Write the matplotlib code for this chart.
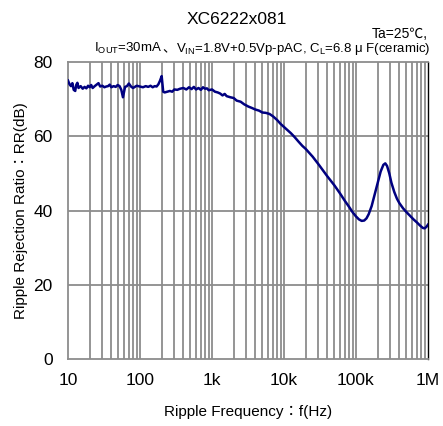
import matplotlib
matplotlib.use("Agg")
import matplotlib.pyplot as plt
import numpy as np

plt.rcParams['font.family'] = ['Liberation Sans', 'Noto Sans CJK JP', 'DejaVu Sans']

freq = [10, 10.5, 11, 11.5, 12, 12.6, 13, 13.5, 14, 15, 16, 17, 18, 19, 20, 21, 22, 23.5, 25, 26.5,
        28, 30, 32, 34, 36, 38, 40, 43, 46, 49, 52, 55, 58, 62, 66, 70, 75, 80, 85, 90,
        100, 110, 120, 130, 140, 150, 160, 170, 180, 190, 200, 210, 220, 240, 260, 280, 300, 330, 360, 400,
        440, 480, 520, 560, 600, 650, 700, 750, 800, 850, 900, 1000, 1100, 1200, 1300, 1400, 1500, 1600, 1800, 2000,
        2200, 2500, 2800, 3200, 3600, 4000, 4500, 5000, 5600, 6300, 7000, 8000, 9000, 10000, 11000, 12500, 14000, 16000, 18000, 20000,
        25000, 30000, 40000, 50000, 60000, 70000, 80000, 90000, 100000, 110000, 120000, 130000, 140000, 150000, 165000, 180000, 200000, 220000, 240000, 255000,
        270000, 290000, 310000, 340000, 370000, 400000, 450000, 500000, 560000, 630000, 700000, 780000, 850000, 900000, 950000, 1000000]
rr = [75.0, 74.0, 73.5, 74.3, 72.5, 72.2, 73.8, 74.4, 73.0, 73.5, 72.8, 73.3, 72.9, 73.6, 73.2, 73.8, 73.0, 73.5, 73.9, 74.3,
      73.4, 73.6, 73.2, 73.4, 73.5, 73.9, 73.2, 73.5, 73.3, 73.8, 73.5, 72.5, 70.5, 73.3, 73.5, 74.2, 73.4, 73.0, 73.3, 73.6,
      73.4, 73.2, 73.5, 73.3, 73.6, 73.2, 73.5, 73.4, 74.0, 75.0, 76.2, 72.0, 71.8, 72.0, 72.2, 72.0, 72.6, 72.5, 72.8, 73.0,
      72.6, 73.2, 72.7, 73.3, 72.6, 73.0, 72.5, 73.2, 72.8, 72.9, 72.4, 72.6, 72.0, 71.8, 71.5, 71.0, 71.4, 70.8, 70.5, 70.3,
      69.6, 69.3, 68.6, 68.0, 67.6, 67.2, 66.9, 66.4, 66.3, 66.0, 65.4, 64.4, 63.3, 62.5, 61.8, 60.8, 59.8, 58.5, 57.4, 56.6,
      54.5, 52.5, 49.2, 46.8, 44.6, 42.6, 41.0, 39.5, 38.4, 37.6, 37.2, 37.3, 37.9, 39.0, 41.2, 44.0, 47.5, 50.5, 52.3, 52.7,
      52.0, 50.0, 47.5, 45.0, 43.2, 42.0, 40.6, 39.6, 38.6, 37.6, 36.8, 35.9, 35.3, 35.2, 35.6, 36.2]

xticks = [10, 100, 1000, 10000, 100000, 1000000]
xticklabels = ["10", "100", "1k", "10k", "100k", "1M"]
yticks = [0, 20, 40, 60, 80]

fig = plt.figure(figsize=(4.43, 4.26), dpi=100)
ax = fig.add_axes([68/443, 67/426, 360/443, 297/426])

ax.set_xscale('log')
ax.set_xlim(10, 1e6)
ax.set_ylim(0, 80)

gc = '#8c8c8c'
minor = [m * 10**d for d in range(1, 6) for m in range(2, 10)]
for x in minor + xticks[1:-1]:
    ax.axvline(x, color=gc, lw=1.3, zorder=1)
for y in [20, 40, 60]:
    ax.axhline(y, color=gc, lw=1.3, zorder=1)

ax.plot(freq, rr, color='#000080', lw=1.8, zorder=3)

ax.set_xticks(xticks)
ax.set_xticklabels(xticklabels)
ax.xaxis.set_minor_locator(matplotlib.ticker.NullLocator())
ax.set_yticks(yticks)
ax.tick_params(length=0, labelsize=12.5)
ax.tick_params(axis='x', pad=10)
ax.tick_params(axis='y', pad=11)

for s in ['left', 'top', 'bottom']:
    ax.spines[s].set_color(gc)
    ax.spines[s].set_linewidth(1.3)
ax.spines['right'].set_color('black')
ax.spines['right'].set_linewidth(1.0)

ax.set_xlabel('Ripple Frequency：f(Hz)', fontsize=11, labelpad=12)
ax.set_ylabel('Ripple Rejection Ratio：RR(dB)', fontsize=11, labelpad=4)

fig.text(237/443, 1 - 19/426, 'XC6222x081', ha='center', va='center', fontsize=12.5)
fig.text(428/443, 1 - 34/426, 'Ta=25℃,', ha='right', va='center', fontsize=10)

# subtitle drawn in pieces (right to left) so the CJK comma gets a CJK font
pieces = [r'$\mathregular{I_{OUT}}$=30mA', '、',
          r'$\mathregular{V_{IN}}$=1.8V+0.5Vp-pAC, $\mathregular{C_L}$=6.8 μ F(ceramic)']
renderer = fig.canvas.get_renderer()
xr = 430.0
base_y = 1 - 52/426
for p in reversed(pieces):
    fam = ['Noto Sans CJK JP'] if p == '、' else ['Liberation Sans', 'DejaVu Sans']
    t = fig.text(xr/443, base_y, p, ha='right', va='baseline', fontsize=9.5, family=fam)
    bb = t.get_window_extent(renderer=renderer)
    xr -= bb.width

fig.savefig('out.png', dpi=100)
